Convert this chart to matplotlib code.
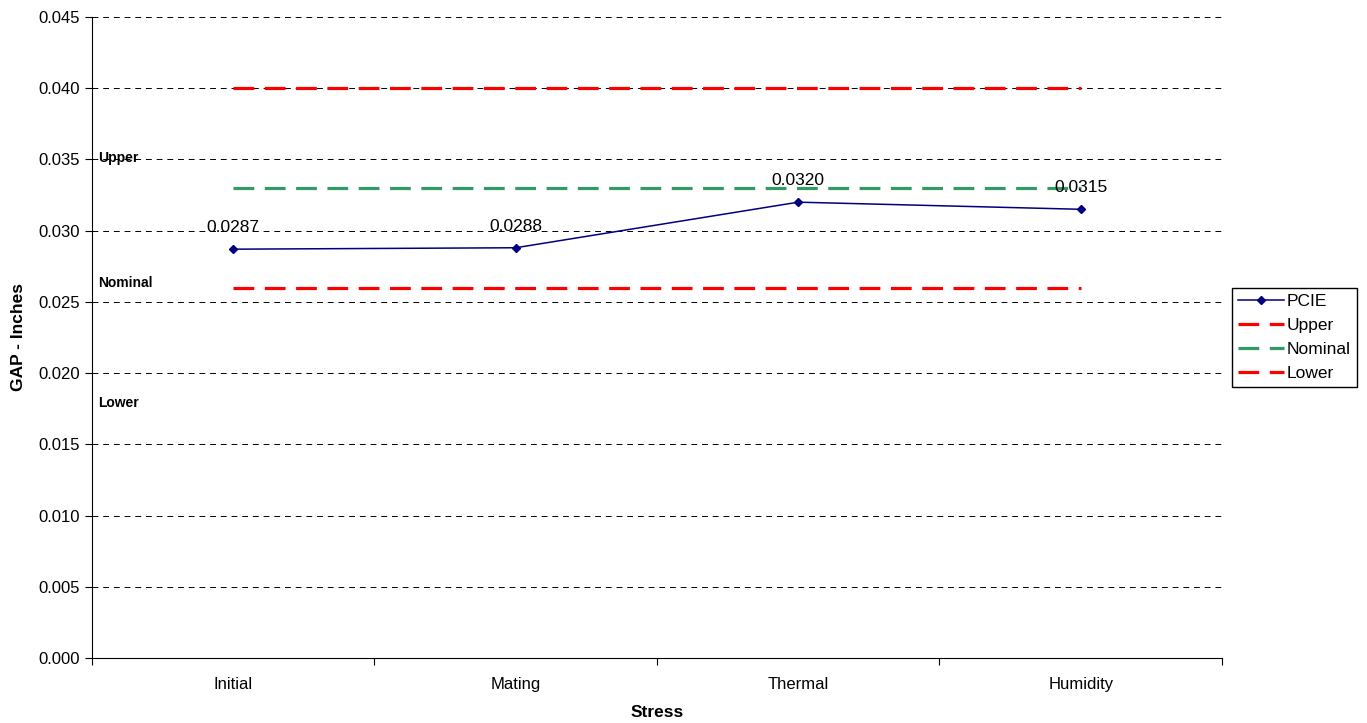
import numpy as np
import matplotlib.pyplot as plt

plt.rcParams['font.family'] = ['Liberation Sans', 'DejaVu Sans']

stress = ['Initial', 'Mating', 'Thermal', 'Humidity']
pcie = [0.0287, 0.0288, 0.0320, 0.0315]
upper = [0.040, 0.040, 0.040, 0.040]
nominal = [0.033, 0.033, 0.033, 0.033]
lower = [0.026, 0.026, 0.026, 0.026]
yticks = [0.000, 0.005, 0.010, 0.015, 0.020, 0.025, 0.030, 0.035, 0.040, 0.045]

fig = plt.figure(figsize=(13.67, 7.23), dpi=100)
ax = fig.add_axes([0.0673, 0.0899, 0.8266, 0.8866])

x = np.arange(len(stress))
dash = (0, (6.5, 3.3))
ax.plot(x, pcie, color='#000080', marker='D', markersize=4.5, linewidth=1.1, label='PCIE', zorder=5)
ax.plot(x, upper, color='#ff0000', linestyle=dash, linewidth=2.3, label='Upper')
ax.plot(x, nominal, color='#339966', linestyle=dash, linewidth=2.3, label='Nominal')
ax.plot(x, lower, color='#ff0000', linestyle=dash, linewidth=2.3, label='Lower')

for xi, v in zip(x, pcie):
    ax.text(xi, v + 0.0010, '%.4f' % v, ha='center', va='bottom', fontsize=12.5)

# limit labels on the left
ax.text(-0.48, 0.0351, 'Upper', fontsize=10, fontweight='bold', va='center')
ax.text(-0.48, 0.0263, 'Nominal', fontsize=10, fontweight='bold', va='center')
ax.text(-0.48, 0.0179, 'Lower', fontsize=10, fontweight='bold', va='center')

ax.set_xlim(-0.5, 3.5)
ax.set_ylim(0, 0.045)
ax.set_yticks(yticks)
ax.set_yticklabels(['%.3f' % t for t in yticks], fontsize=12)
ax.set_xticks(np.arange(-0.5, 4, 1))
ax.set_xticklabels([])
ax.set_xticks(x, minor=True)
ax.set_xticklabels(stress, minor=True, fontsize=12)
ax.tick_params(axis='x', which='minor', length=0, pad=14)
ax.tick_params(axis='x', which='major', length=5, direction='out')
ax.tick_params(axis='y', length=5, direction='out')
ax.yaxis.grid(True, color='black', linestyle=(0, (6, 5)), linewidth=0.7)
ax.set_axisbelow(True)
for s in ['top', 'right']:
    ax.spines[s].set_visible(False)

ax.set_xlabel('Stress', fontsize=12.5, fontweight='bold', labelpad=9)
ax.set_ylabel('GAP - Inches', fontsize=12.5, fontweight='bold', labelpad=9)

ax.legend(loc='center left', bbox_to_anchor=(1.0, 0.5), fontsize=12.5, frameon=True,
          fancybox=False, edgecolor='black', framealpha=1, handlelength=2.6,
          borderpad=0.35, labelspacing=0.5, handletextpad=0.2, borderaxespad=0.6)

fig.savefig('out.png', dpi=100)
